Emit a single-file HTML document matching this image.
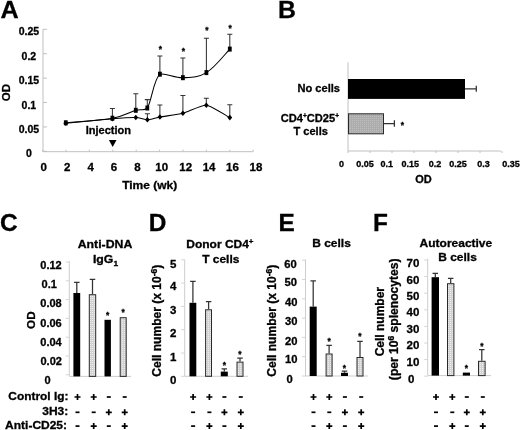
<!DOCTYPE html>
<html><head><meta charset="utf-8"><title>Figure</title>
<style>
html,body{margin:0;padding:0;background:#fff;}
body{width:520px;height:430px;overflow:hidden;}
svg{display:block;filter:blur(0.35px);}
svg text{font-family:"Liberation Sans",sans-serif;font-weight:bold;fill:#000;stroke:#000;stroke-width:0.3px;}
</style></head><body>
<svg width="520" height="430" viewBox="0 0 520 430">
<rect width="520" height="430" fill="#fff"/>
<defs>
<pattern id="pv" width="2" height="2" patternUnits="userSpaceOnUse"><rect width="2" height="2" fill="#d2d2d2"/><rect width="1" height="1" fill="#eee"/></pattern>
<pattern id="ph" width="2" height="2" patternUnits="userSpaceOnUse"><rect width="2" height="2" fill="#acacac"/><rect width="1" height="1" fill="#bebebe"/></pattern>
</defs>
<text transform="translate(0.5 17.9) scale(1.04 1)" font-size="24.23" text-anchor="start" >A</text>
<text x="278" y="18.4" font-size="24.8" text-anchor="start" >B</text>
<text x="0.1" y="231.4" font-size="24.5" text-anchor="start" >C</text>
<text x="148.7" y="231.3" font-size="24.4" text-anchor="start" >D</text>
<text x="278.4" y="231.4" font-size="24.4" text-anchor="start" >E</text>
<text x="373" y="231.4" font-size="24.4" text-anchor="start" >F</text>
<path d="M43 29V151.7H253" stroke="#c0c0c0" fill="none" stroke-width="1"/>
<path d="M43 151.3h4" stroke="#c0c0c0" stroke-width="1"/>
<text x="28.9" y="157.3" font-size="10.5" text-anchor="middle" >0</text>
<path d="M43 126.9h4" stroke="#c0c0c0" stroke-width="1"/>
<text x="28.9" y="132.9" font-size="10.5" text-anchor="middle" >0.05</text>
<path d="M43 102.5h4" stroke="#c0c0c0" stroke-width="1"/>
<text x="28.9" y="108.5" font-size="10.5" text-anchor="middle" >0.1</text>
<path d="M43 78.1h4" stroke="#c0c0c0" stroke-width="1"/>
<text x="28.9" y="84.1" font-size="10.5" text-anchor="middle" >0.15</text>
<path d="M43 53.7h4" stroke="#c0c0c0" stroke-width="1"/>
<text x="28.9" y="59.7" font-size="10.5" text-anchor="middle" >0.2</text>
<path d="M43 29.3h4" stroke="#c0c0c0" stroke-width="1"/>
<text x="28.9" y="35.3" font-size="10.5" text-anchor="middle" >0.25</text>
<path d="M42.6 151.7v-2" stroke="#c0c0c0" stroke-width="1"/>
<text x="43.8" y="171.0" font-size="11.5" text-anchor="middle" >0</text>
<path d="M66.0 151.7v-2" stroke="#c0c0c0" stroke-width="1"/>
<text x="67.2" y="171.0" font-size="11.5" text-anchor="middle" >2</text>
<path d="M89.4 151.7v-2" stroke="#c0c0c0" stroke-width="1"/>
<text x="90.6" y="171.0" font-size="11.5" text-anchor="middle" >4</text>
<path d="M112.8 151.7v-2" stroke="#c0c0c0" stroke-width="1"/>
<text x="114.0" y="171.0" font-size="11.5" text-anchor="middle" >6</text>
<path d="M136.2 151.7v-2" stroke="#c0c0c0" stroke-width="1"/>
<text x="137.4" y="171.0" font-size="11.5" text-anchor="middle" >8</text>
<path d="M159.6 151.7v-2" stroke="#c0c0c0" stroke-width="1"/>
<text x="161.7" y="171.0" font-size="11.5" text-anchor="middle" >10</text>
<path d="M183.0 151.7v-2" stroke="#c0c0c0" stroke-width="1"/>
<text x="185.7" y="171.0" font-size="11.5" text-anchor="middle" >12</text>
<path d="M206.4 151.7v-2" stroke="#c0c0c0" stroke-width="1"/>
<text x="209.1" y="171.0" font-size="11.5" text-anchor="middle" >14</text>
<path d="M229.8 151.7v-2" stroke="#c0c0c0" stroke-width="1"/>
<text x="232.5" y="171.0" font-size="11.5" text-anchor="middle" >16</text>
<path d="M253.2 151.7v-2" stroke="#c0c0c0" stroke-width="1"/>
<text x="255.9" y="171.0" font-size="11.5" text-anchor="middle" >18</text>
<text transform="translate(9.5 92.6) rotate(-90) scale(1.0 1)" font-size="11.50" text-anchor="middle">OD</text>
<text transform="translate(149.7 189.0) scale(1.05 1)" font-size="11.43" text-anchor="middle" >Time (wk)</text>
<text transform="translate(108.3 134.2) scale(1.05 1)" font-size="10.48" text-anchor="middle" >Injection</text>
<path d="M108.9 140h7.6l-3.8 7z" fill="#000"/>
<path d="M112.4 118.2V108.4M109.9 108.4H114.9" stroke="#333" stroke-width="1.05" fill="none"/>
<path d="M135.8 110.3V93.8M133.3 93.8H138.3" stroke="#333" stroke-width="1.05" fill="none"/>
<path d="M147.3 108V99.6M144.8 99.6H149.8" stroke="#333" stroke-width="1.05" fill="none"/>
<path d="M159.9 74.2V55.9M157.4 55.9H162.4" stroke="#333" stroke-width="1.05" fill="none"/>
<text x="160.3" y="51.73" font-size="8.4" text-anchor="middle" stroke-width="0.1">*</text>
<path d="M182.9 77.7V58M180.4 58H185.4" stroke="#333" stroke-width="1.05" fill="none"/>
<text x="183.3" y="54.33" font-size="8.4" text-anchor="middle" stroke-width="0.1">*</text>
<path d="M206.4 72.6V38.2M203.9 38.2H208.9" stroke="#333" stroke-width="1.05" fill="none"/>
<text x="206.8" y="33.33" font-size="8.4" text-anchor="middle" stroke-width="0.1">*</text>
<path d="M229.8 49.1V34.3M227.3 34.3H232.3" stroke="#333" stroke-width="1.05" fill="none"/>
<text x="230.20000000000002" y="31.43" font-size="8.4" text-anchor="middle" stroke-width="0.1">*</text>
<path d="M147.4 119.8V113.8M144.9 113.8H149.9" stroke="#333" stroke-width="1.05" fill="none"/>
<path d="M159.9 117V104.9M157.4 104.9H162.4" stroke="#333" stroke-width="1.05" fill="none"/>
<path d="M182.9 113.3V95.5M180.4 95.5H185.4" stroke="#333" stroke-width="1.05" fill="none"/>
<path d="M206.3 105.2V98.2M203.8 98.2H208.8" stroke="#333" stroke-width="1.05" fill="none"/>
<path d="M229.8 117.6V104.7M227.3 104.7H232.3" stroke="#333" stroke-width="1.05" fill="none"/>
<path d="M65.8 122.8C74.3 122.0 99.6 120.5 112.4 118.2C125.2 115.9 129.4 112.2 135.8 110.3C142.2 108.4 142.9 111.5 147.3 108C151.7 101.4 153.4 79.8 159.9 74.2C166.4 73.0 174.4 78.0 182.9 77.7C191.4 77.4 197.8 77.8 206.4 72.6C215.0 67.4 225.5 53.4 229.8 49.1" stroke="#000" stroke-width="1.05" fill="none"/>
<path d="M65.8 123.2C70.5 122.8 105.4 119.4 112.4 118.8C119.4 118.2 132.3 117.4 135.8 117.5C139.3 117.6 145.0 119.8 147.4 119.8C149.8 119.8 156.3 117.7 159.9 117C163.5 116.3 178.3 114.5 182.9 113.3C187.5 112.1 201.6 104.8 206.3 105.2C211.0 105.6 227.5 116.4 229.8 117.6" stroke="#000" stroke-width="1.05" fill="none"/>
<rect x="63.9" y="120.3" width="3.8" height="5" fill="#000"/>
<rect x="110.5" y="115.7" width="3.8" height="5" fill="#000"/>
<rect x="133.9" y="107.8" width="3.8" height="5" fill="#000"/>
<rect x="145.4" y="105.5" width="3.8" height="5" fill="#000"/>
<rect x="158.0" y="71.7" width="3.8" height="5" fill="#000"/>
<rect x="181.0" y="75.2" width="3.8" height="5" fill="#000"/>
<rect x="204.5" y="70.1" width="3.8" height="5" fill="#000"/>
<rect x="227.9" y="46.6" width="3.8" height="5" fill="#000"/>
<path d="M65.8 120.4l2.4 2.8l-2.4 2.8l-2.4 -2.8z" fill="#000"/>
<path d="M112.4 116.0l2.4 2.8l-2.4 2.8l-2.4 -2.8z" fill="#000"/>
<path d="M135.8 114.7l2.4 2.8l-2.4 2.8l-2.4 -2.8z" fill="#000"/>
<path d="M147.4 117.0l2.4 2.8l-2.4 2.8l-2.4 -2.8z" fill="#000"/>
<path d="M159.9 114.2l2.4 2.8l-2.4 2.8l-2.4 -2.8z" fill="#000"/>
<path d="M182.9 110.5l2.4 2.8l-2.4 2.8l-2.4 -2.8z" fill="#000"/>
<path d="M206.3 102.4l2.4 2.8l-2.4 2.8l-2.4 -2.8z" fill="#000"/>
<path d="M229.8 114.8l2.4 2.8l-2.4 2.8l-2.4 -2.8z" fill="#000"/>
<path d="M348 62.3V151H501" stroke="#c0c0c0" fill="none" stroke-width="1"/>
<path d="M348.0 151v2" stroke="#c0c0c0" stroke-width="1"/>
<path d="M370.0 151v2" stroke="#c0c0c0" stroke-width="1"/>
<path d="M392.0 151v2" stroke="#c0c0c0" stroke-width="1"/>
<path d="M414.0 151v2" stroke="#c0c0c0" stroke-width="1"/>
<path d="M436.0 151v2" stroke="#c0c0c0" stroke-width="1"/>
<path d="M458.0 151v2" stroke="#c0c0c0" stroke-width="1"/>
<path d="M480.0 151v2" stroke="#c0c0c0" stroke-width="1"/>
<path d="M502.0 151v2" stroke="#c0c0c0" stroke-width="1"/>
<text x="341.5" y="167.3" font-size="9" text-anchor="middle" >0</text>
<text x="364.9" y="167.3" font-size="9" text-anchor="middle" >0.05</text>
<text x="386.7" y="167.3" font-size="9" text-anchor="middle" >0.1</text>
<text x="410.3" y="167.3" font-size="9" text-anchor="middle" >0.15</text>
<text x="435" y="167.3" font-size="9" text-anchor="middle" >0.2</text>
<text x="457.9" y="167.3" font-size="9" text-anchor="middle" >0.25</text>
<text x="483.5" y="167.3" font-size="9" text-anchor="middle" >0.3</text>
<text x="510.9" y="167.3" font-size="9" text-anchor="middle" >0.35</text>
<text x="423.5" y="183" font-size="11" text-anchor="middle" >OD</text>
<rect x="348" y="79.0" width="117" height="19.9" fill="#000"/>
<path d="M465 88.8H476.3M476.3 85.8V91.8" stroke="#333" stroke-width="1.25" fill="none"/>
<rect x="348.5" y="113.8" width="35" height="20" fill="url(#ph)" stroke="#2a2a2a" stroke-width="1"/>
<path d="M384 123.6H394.4M394.4 120.35V126.85" stroke="#333" stroke-width="1.25" fill="none"/>
<text x="402.3" y="128.03" font-size="8.4" text-anchor="middle" stroke-width="0.1">*</text>
<text x="340" y="91.9" font-size="11.1" text-anchor="end" >No cells</text>
<text x="339" y="122" font-size="11.1" text-anchor="end" >CD4<tspan font-size="6.5" dy="-4">+</tspan><tspan dy="4">CD25</tspan><tspan font-size="6.5" dy="-4">+</tspan></text>
<text x="310.7" y="134.8" font-size="11.1" text-anchor="middle" >T cells</text>
<path d="M69.3 261V376.4H131" stroke="#cdcdcd" fill="none" stroke-width="1"/>
<path d="M69.3 374.8h-3.5" stroke="#d4d4d4" stroke-width="1"/>
<path d="M69.3 356.0h-3.5" stroke="#d4d4d4" stroke-width="1"/>
<path d="M69.3 337.2h-3.5" stroke="#d4d4d4" stroke-width="1"/>
<path d="M69.3 318.4h-3.5" stroke="#d4d4d4" stroke-width="1"/>
<path d="M69.3 299.6h-3.5" stroke="#d4d4d4" stroke-width="1"/>
<path d="M69.3 280.8h-3.5" stroke="#d4d4d4" stroke-width="1"/>
<path d="M69.3 262.0h-3.5" stroke="#d4d4d4" stroke-width="1"/>
<text x="47.6" y="384.0" font-size="11" text-anchor="middle" >0</text>
<text x="51.2" y="364.8" font-size="11" text-anchor="middle" >0.02</text>
<text x="51" y="345.6" font-size="11" text-anchor="middle" >0.04</text>
<text x="51" y="326.6" font-size="11" text-anchor="middle" >0.06</text>
<text x="51" y="307.3" font-size="11" text-anchor="middle" >0.08</text>
<text x="49.2" y="288.3" font-size="11" text-anchor="middle" >0.1</text>
<text x="51" y="269.2" font-size="11" text-anchor="middle" >0.12</text>
<path d="M76.8 293V282.3M74.05 282.3H79.55" stroke="#333" stroke-width="1.25" fill="none"/>
<rect x="73.4" y="293" width="6.8" height="83.4" fill="#000"/>
<path d="M92.5 294.2V279.3M89.75 279.3H95.25" stroke="#333" stroke-width="1.25" fill="none"/>
<rect x="89.3" y="294.7" width="6.4" height="81.7" fill="url(#pv)" stroke="#2a2a2a" stroke-width="1"/>
<rect x="104.5" y="319.8" width="6.4" height="56.6" fill="#000"/>
<text x="107.7" y="318.03" font-size="8.4" text-anchor="middle" stroke-width="0.1">*</text>
<rect x="120.2" y="317.7" width="6.0" height="58.7" fill="url(#pv)" stroke="#2a2a2a" stroke-width="1"/>
<text x="123.2" y="315.03" font-size="8.4" text-anchor="middle" stroke-width="0.1">*</text>
<text transform="translate(105 248.4) scale(1.07 1)" font-size="11.50" text-anchor="middle" >Anti-DNA</text>
<text transform="translate(105.5 262.5) scale(1.07 1)" font-size="11.50" text-anchor="middle" >IgG<tspan font-size="7.8" dy="3.6">1</tspan></text>
<text transform="translate(35.3 320.2) rotate(-90) scale(1.0 1)" font-size="11.70" text-anchor="middle">OD</text>
<path d="M184.7 259.6V376.3H248" stroke="#cdcdcd" fill="none" stroke-width="1"/>
<path d="M184.7 376.3h-3.5" stroke="#d4d4d4" stroke-width="1"/>
<path d="M184.7 353.0h-3.5" stroke="#d4d4d4" stroke-width="1"/>
<path d="M184.7 329.7h-3.5" stroke="#d4d4d4" stroke-width="1"/>
<path d="M184.7 306.4h-3.5" stroke="#d4d4d4" stroke-width="1"/>
<path d="M184.7 283.1h-3.5" stroke="#d4d4d4" stroke-width="1"/>
<path d="M184.7 259.8h-3.5" stroke="#d4d4d4" stroke-width="1"/>
<text x="173.2" y="384.3" font-size="11.5" text-anchor="middle" >0</text>
<text x="173.3" y="360.7" font-size="11.5" text-anchor="middle" >1</text>
<text x="173.3" y="337.1" font-size="11.5" text-anchor="middle" >2</text>
<text x="173.3" y="313.6" font-size="11.5" text-anchor="middle" >3</text>
<text x="173.3" y="290.1" font-size="11.5" text-anchor="middle" >4</text>
<text x="173.3" y="267.9" font-size="11.5" text-anchor="middle" >5</text>
<path d="M192.9 302.8V281.3M190.15 281.3H195.65" stroke="#333" stroke-width="1.25" fill="none"/>
<rect x="189.5" y="302.8" width="6.8" height="73.5" fill="#000"/>
<path d="M208.6 309.3V301.6M205.85 301.6H211.35" stroke="#333" stroke-width="1.25" fill="none"/>
<rect x="205.6" y="309.8" width="5.9" height="66.5" fill="url(#pv)" stroke="#2a2a2a" stroke-width="1"/>
<path d="M224.3 371.6V368.8M221.55 368.8H227.05" stroke="#333" stroke-width="1.25" fill="none"/>
<rect x="220.8" y="371.6" width="7.0" height="4.7" fill="#000"/>
<text x="224.3" y="367.73" font-size="8.4" text-anchor="middle" stroke-width="0.1">*</text>
<path d="M240.0 361.6V358.1M237.25 358.1H242.75" stroke="#333" stroke-width="1.25" fill="none"/>
<rect x="237.0" y="362.1" width="6.0" height="14.2" fill="url(#pv)" stroke="#2a2a2a" stroke-width="1"/>
<text x="240.0" y="356.73" font-size="8.4" text-anchor="middle" stroke-width="0.1">*</text>
<text transform="translate(219.9 248.2) scale(1.07 1)" font-size="11.21" text-anchor="middle" >Donor CD4<tspan font-size="7.5" dy="-4">+</tspan></text>
<text transform="translate(220.8 262.7) scale(1.07 1)" font-size="11.21" text-anchor="middle" >T cells</text>
<text transform="translate(161.3 320.7) rotate(-90) scale(1.0 1)" font-size="12.05" text-anchor="middle">Cell number (x 10<tspan font-size="8.5" dy="-4.5">-6</tspan><tspan dy="4.5">)</tspan></text>
<path d="M305.5 259.5V376H368" stroke="#cdcdcd" fill="none" stroke-width="1"/>
<path d="M305.5 376.0h-3.5" stroke="#d4d4d4" stroke-width="1"/>
<path d="M305.5 356.7h-3.5" stroke="#d4d4d4" stroke-width="1"/>
<path d="M305.5 337.4h-3.5" stroke="#d4d4d4" stroke-width="1"/>
<path d="M305.5 318.1h-3.5" stroke="#d4d4d4" stroke-width="1"/>
<path d="M305.5 298.8h-3.5" stroke="#d4d4d4" stroke-width="1"/>
<path d="M305.5 279.5h-3.5" stroke="#d4d4d4" stroke-width="1"/>
<path d="M305.5 260.2h-3.5" stroke="#d4d4d4" stroke-width="1"/>
<text x="289.7" y="383.0" font-size="11.2" text-anchor="middle" >0</text>
<text x="291.2" y="363.4" font-size="11.2" text-anchor="middle" >10</text>
<text x="291.2" y="344.8" font-size="11.2" text-anchor="middle" >20</text>
<text x="291.2" y="325.0" font-size="11.2" text-anchor="middle" >30</text>
<text x="291.2" y="305.5" font-size="11.2" text-anchor="middle" >40</text>
<text x="290.8" y="286.4" font-size="11.2" text-anchor="middle" >50</text>
<text x="290.6" y="267.6" font-size="11.2" text-anchor="middle" >60</text>
<path d="M313.2 306.6V280.8M310.45 280.8H315.95" stroke="#333" stroke-width="1.25" fill="none"/>
<rect x="309.7" y="306.6" width="7.0" height="69.4" fill="#000"/>
<path d="M329.1 353.5V345.3M326.35 345.3H331.85" stroke="#333" stroke-width="1.25" fill="none"/>
<rect x="326.1" y="354.0" width="6.0" height="22.0" fill="url(#pv)" stroke="#2a2a2a" stroke-width="1"/>
<text x="329.1" y="344.33" font-size="8.4" text-anchor="middle" stroke-width="0.1">*</text>
<path d="M344.5 372.8V371M341.75 371H347.25" stroke="#333" stroke-width="1.25" fill="none"/>
<rect x="341" y="372.8" width="7.0" height="3.2" fill="#000"/>
<text x="344.5" y="371.23" font-size="8.4" text-anchor="middle" stroke-width="0.1">*</text>
<path d="M360.0 357V341.4M357.25 341.4H362.75" stroke="#333" stroke-width="1.25" fill="none"/>
<rect x="357.0" y="357.5" width="6.0" height="18.5" fill="url(#pv)" stroke="#2a2a2a" stroke-width="1"/>
<text x="360.0" y="339.33" font-size="8.4" text-anchor="middle" stroke-width="0.1">*</text>
<text transform="translate(331.5 247.4) scale(1.07 1)" font-size="11.21" text-anchor="middle" >B cells</text>
<text transform="translate(276.4 320.7) rotate(-90) scale(1.0 1)" font-size="12.05" text-anchor="middle">Cell number (x 10<tspan font-size="8.5" dy="-4.5">-6</tspan><tspan dy="4.5">)</tspan></text>
<path d="M427.7 258.5V375.6H491" stroke="#cdcdcd" fill="none" stroke-width="1"/>
<path d="M427.7 376.2h-3.5" stroke="#d4d4d4" stroke-width="1"/>
<path d="M427.7 359.6h-3.5" stroke="#d4d4d4" stroke-width="1"/>
<path d="M427.7 343.0h-3.5" stroke="#d4d4d4" stroke-width="1"/>
<path d="M427.7 326.4h-3.5" stroke="#d4d4d4" stroke-width="1"/>
<path d="M427.7 309.8h-3.5" stroke="#d4d4d4" stroke-width="1"/>
<path d="M427.7 293.2h-3.5" stroke="#d4d4d4" stroke-width="1"/>
<path d="M427.7 276.6h-3.5" stroke="#d4d4d4" stroke-width="1"/>
<path d="M427.7 260.0h-3.5" stroke="#d4d4d4" stroke-width="1"/>
<text x="411.3" y="382.6" font-size="11.5" text-anchor="middle" >0</text>
<text x="412.9" y="365.7" font-size="11.5" text-anchor="middle" >10</text>
<text x="412.9" y="349.1" font-size="11.5" text-anchor="middle" >20</text>
<text x="412.9" y="332.7" font-size="11.5" text-anchor="middle" >30</text>
<text x="412.9" y="316.1" font-size="11.5" text-anchor="middle" >40</text>
<text x="412.9" y="300.4" font-size="11.5" text-anchor="middle" >50</text>
<text x="412.9" y="283.6" font-size="11.5" text-anchor="middle" >60</text>
<text x="412.9" y="267.4" font-size="11.5" text-anchor="middle" >70</text>
<path d="M435.3 277.2V273.4M432.55 273.4H438.05" stroke="#333" stroke-width="1.25" fill="none"/>
<rect x="431.6" y="277.2" width="7.4" height="98.4" fill="#000"/>
<path d="M450.7 283.2V278.3M447.95 278.3H453.45" stroke="#333" stroke-width="1.25" fill="none"/>
<rect x="447.5" y="283.7" width="6.4" height="91.9" fill="url(#pv)" stroke="#2a2a2a" stroke-width="1"/>
<rect x="462.8" y="372.6" width="7.2" height="3.0" fill="#000"/>
<text x="466.4" y="370.63" font-size="8.4" text-anchor="middle" stroke-width="0.1">*</text>
<path d="M481.8 360.8V349.5M479.05 349.5H484.55" stroke="#333" stroke-width="1.25" fill="none"/>
<rect x="478.5" y="361.3" width="6.6" height="14.3" fill="url(#pv)" stroke="#2a2a2a" stroke-width="1"/>
<text x="481.8" y="348.93" font-size="8.4" text-anchor="middle" stroke-width="0.1">*</text>
<text transform="translate(455.9 246.6) scale(1.07 1)" font-size="11.21" text-anchor="middle" >Autoreactive</text>
<text transform="translate(457.5 261.3) scale(1.07 1)" font-size="11.21" text-anchor="middle" >B cells</text>
<text transform="translate(384 321.7) rotate(-90) scale(1.0 1)" font-size="12.00" text-anchor="middle">Cell number</text>
<text transform="translate(398.1 319.3) rotate(-90) scale(1.0 1)" font-size="12.10" text-anchor="middle">(per 10<tspan font-size="8.5" dy="-4">6</tspan><tspan dy="4"> splenocytes)</tspan></text>
<path d="M74.5 397h6M77.5 394v6" stroke="#000" stroke-width="1.7"/>
<path d="M90.7 397h6M93.7 394v6" stroke="#000" stroke-width="1.7"/>
<path d="M106.8 397h4" stroke="#000" stroke-width="1.7"/>
<path d="M122.7 397h4" stroke="#000" stroke-width="1.7"/>
<path d="M75.5 412.3h4" stroke="#000" stroke-width="1.7"/>
<path d="M91.7 412.3h4" stroke="#000" stroke-width="1.7"/>
<path d="M105.8 412.3h6M108.8 409.3v6" stroke="#000" stroke-width="1.7"/>
<path d="M121.7 412.3h6M124.7 409.3v6" stroke="#000" stroke-width="1.7"/>
<path d="M75.5 426.1h4" stroke="#000" stroke-width="1.7"/>
<path d="M90.7 426.1h6M93.7 423.1v6" stroke="#000" stroke-width="1.7"/>
<path d="M106.8 426.1h4" stroke="#000" stroke-width="1.7"/>
<path d="M121.7 426.1h6M124.7 423.1v6" stroke="#000" stroke-width="1.7"/>
<path d="M190.1 397h6M193.1 394v6" stroke="#000" stroke-width="1.7"/>
<path d="M206.4 397h6M209.4 394v6" stroke="#000" stroke-width="1.7"/>
<path d="M222.4 397h4" stroke="#000" stroke-width="1.7"/>
<path d="M238.8 397h4" stroke="#000" stroke-width="1.7"/>
<path d="M191.1 412.3h4" stroke="#000" stroke-width="1.7"/>
<path d="M207.4 412.3h4" stroke="#000" stroke-width="1.7"/>
<path d="M221.4 412.3h6M224.4 409.3v6" stroke="#000" stroke-width="1.7"/>
<path d="M237.8 412.3h6M240.8 409.3v6" stroke="#000" stroke-width="1.7"/>
<path d="M191.1 426.1h4" stroke="#000" stroke-width="1.7"/>
<path d="M206.4 426.1h6M209.4 423.1v6" stroke="#000" stroke-width="1.7"/>
<path d="M222.4 426.1h4" stroke="#000" stroke-width="1.7"/>
<path d="M237.8 426.1h6M240.8 423.1v6" stroke="#000" stroke-width="1.7"/>
<path d="M310.5 397h6M313.5 394v6" stroke="#000" stroke-width="1.7"/>
<path d="M326.3 397h6M329.3 394v6" stroke="#000" stroke-width="1.7"/>
<path d="M342.9 397h4" stroke="#000" stroke-width="1.7"/>
<path d="M359.2 397h4" stroke="#000" stroke-width="1.7"/>
<path d="M311.5 412.3h4" stroke="#000" stroke-width="1.7"/>
<path d="M327.3 412.3h4" stroke="#000" stroke-width="1.7"/>
<path d="M341.9 412.3h6M344.9 409.3v6" stroke="#000" stroke-width="1.7"/>
<path d="M358.2 412.3h6M361.2 409.3v6" stroke="#000" stroke-width="1.7"/>
<path d="M311.5 426.1h4" stroke="#000" stroke-width="1.7"/>
<path d="M326.3 426.1h6M329.3 423.1v6" stroke="#000" stroke-width="1.7"/>
<path d="M342.9 426.1h4" stroke="#000" stroke-width="1.7"/>
<path d="M358.2 426.1h6M361.2 423.1v6" stroke="#000" stroke-width="1.7"/>
<path d="M433 397h6M436 394v6" stroke="#000" stroke-width="1.7"/>
<path d="M449.3 397h6M452.3 394v6" stroke="#000" stroke-width="1.7"/>
<path d="M464.8 397h4" stroke="#000" stroke-width="1.7"/>
<path d="M480.8 397h4" stroke="#000" stroke-width="1.7"/>
<path d="M434 412.3h4" stroke="#000" stroke-width="1.7"/>
<path d="M450.3 412.3h4" stroke="#000" stroke-width="1.7"/>
<path d="M463.8 412.3h6M466.8 409.3v6" stroke="#000" stroke-width="1.7"/>
<path d="M479.8 412.3h6M482.8 409.3v6" stroke="#000" stroke-width="1.7"/>
<path d="M434 426.1h4" stroke="#000" stroke-width="1.7"/>
<path d="M449.3 426.1h6M452.3 423.1v6" stroke="#000" stroke-width="1.7"/>
<path d="M464.8 426.1h4" stroke="#000" stroke-width="1.7"/>
<path d="M479.8 426.1h6M482.8 423.1v6" stroke="#000" stroke-width="1.7"/>
<text transform="translate(68.4 400.0) scale(1.07 1)" font-size="11.12" text-anchor="end" >Control Ig:</text>
<text transform="translate(68.2 415.3) scale(1.07 1)" font-size="11.21" text-anchor="end" >3H3:</text>
<text transform="translate(67 428.8) scale(1.07 1)" font-size="11.21" text-anchor="end" >Anti-CD25:</text>
</svg>
</body></html>
